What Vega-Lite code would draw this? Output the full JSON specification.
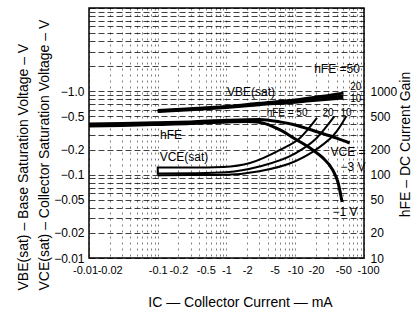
{
  "$schema": "https://vega.github.io/schema/vega-lite/v6.json",
  "width": 275,
  "height": 250,
  "autosize": {"type": "none"},
  "padding": {"left": 89, "top": 8, "right": 54, "bottom": 65},
  "background": "white",
  "config": {
    "font": "Liberation Sans",
    "view": {"stroke": "black", "strokeWidth": 1.5},
    "axis": {"labelFont": "Liberation Sans", "labelFontSize": 12, "labelColor": "black", "titleFont": "Liberation Sans", "titleFontSize": 14, "titleFontWeight": "normal", "titleColor": "black", "ticks": false, "domain": false, "labelOverlap": false}
  },
  "datasets": {
    "volt": [
      {"curve": "VBE", "beta": "10", "Ic": 0.1, "V": 0.59},
      {"curve": "VBE", "beta": "10", "Ic": 0.3, "V": 0.62},
      {"curve": "VBE", "beta": "10", "Ic": 1, "V": 0.66},
      {"curve": "VBE", "beta": "10", "Ic": 3, "V": 0.72},
      {"curve": "VBE", "beta": "10", "Ic": 10, "V": 0.79},
      {"curve": "VBE", "beta": "10", "Ic": 20, "V": 0.85},
      {"curve": "VBE", "beta": "10", "Ic": 50, "V": 0.95},
      {"curve": "VBE", "beta": "20", "Ic": 0.1, "V": 0.58},
      {"curve": "VBE", "beta": "20", "Ic": 0.3, "V": 0.61},
      {"curve": "VBE", "beta": "20", "Ic": 1, "V": 0.65},
      {"curve": "VBE", "beta": "20", "Ic": 3, "V": 0.70},
      {"curve": "VBE", "beta": "20", "Ic": 10, "V": 0.76},
      {"curve": "VBE", "beta": "20", "Ic": 20, "V": 0.81},
      {"curve": "VBE", "beta": "20", "Ic": 50, "V": 0.88},
      {"curve": "VBE", "beta": "50", "Ic": 0.1, "V": 0.57},
      {"curve": "VBE", "beta": "50", "Ic": 0.3, "V": 0.60},
      {"curve": "VBE", "beta": "50", "Ic": 1, "V": 0.64},
      {"curve": "VBE", "beta": "50", "Ic": 3, "V": 0.69},
      {"curve": "VBE", "beta": "50", "Ic": 10, "V": 0.74},
      {"curve": "VBE", "beta": "50", "Ic": 20, "V": 0.78},
      {"curve": "VBE", "beta": "50", "Ic": 50, "V": 0.83},
      {"curve": "VCE", "beta": "50", "Ic": 0.1, "V": 0.1},
      {"curve": "VCE", "beta": "50", "Ic": 0.1, "V": 0.122},
      {"curve": "VCE", "beta": "50", "Ic": 0.3, "V": 0.122},
      {"curve": "VCE", "beta": "50", "Ic": 0.9, "V": 0.124},
      {"curve": "VCE", "beta": "50", "Ic": 2.2, "V": 0.138},
      {"curve": "VCE", "beta": "50", "Ic": 6, "V": 0.198},
      {"curve": "VCE", "beta": "50", "Ic": 11.7, "V": 0.275},
      {"curve": "VCE", "beta": "50", "Ic": 20.7, "V": 0.48},
      {"curve": "VCE", "beta": "20", "Ic": 0.1, "V": 0.103},
      {"curve": "VCE", "beta": "20", "Ic": 0.3, "V": 0.104},
      {"curve": "VCE", "beta": "20", "Ic": 1, "V": 0.107},
      {"curve": "VCE", "beta": "20", "Ic": 3, "V": 0.125},
      {"curve": "VCE", "beta": "20", "Ic": 10, "V": 0.18},
      {"curve": "VCE", "beta": "20", "Ic": 20, "V": 0.27},
      {"curve": "VCE", "beta": "20", "Ic": 37, "V": 0.5},
      {"curve": "VCE", "beta": "10", "Ic": 0.1, "V": 0.098},
      {"curve": "VCE", "beta": "10", "Ic": 0.3, "V": 0.099},
      {"curve": "VCE", "beta": "10", "Ic": 1, "V": 0.1},
      {"curve": "VCE", "beta": "10", "Ic": 3, "V": 0.11},
      {"curve": "VCE", "beta": "10", "Ic": 10, "V": 0.145},
      {"curve": "VCE", "beta": "10", "Ic": 20, "V": 0.2},
      {"curve": "VCE", "beta": "10", "Ic": 40, "V": 0.33},
      {"curve": "VCE", "beta": "10", "Ic": 55, "V": 0.5}
    ],
    "gain": [
      {"vce": "-3", "Ic": 0.01, "hFE": 405},
      {"vce": "-3", "Ic": 0.03, "hFE": 410},
      {"vce": "-3", "Ic": 0.1, "hFE": 420},
      {"vce": "-3", "Ic": 0.3, "hFE": 430},
      {"vce": "-3", "Ic": 1, "hFE": 450},
      {"vce": "-3", "Ic": 3, "hFE": 460},
      {"vce": "-3", "Ic": 6, "hFE": 430},
      {"vce": "-3", "Ic": 10, "hFE": 395},
      {"vce": "-3", "Ic": 20, "hFE": 330},
      {"vce": "-3", "Ic": 40, "hFE": 275},
      {"vce": "-3", "Ic": 62, "hFE": 240},
      {"vce": "-1", "Ic": 0.01, "hFE": 385},
      {"vce": "-1", "Ic": 0.03, "hFE": 390},
      {"vce": "-1", "Ic": 0.1, "hFE": 400},
      {"vce": "-1", "Ic": 0.3, "hFE": 410},
      {"vce": "-1", "Ic": 1, "hFE": 430},
      {"vce": "-1", "Ic": 2, "hFE": 435},
      {"vce": "-1", "Ic": 3, "hFE": 425},
      {"vce": "-1", "Ic": 6, "hFE": 344},
      {"vce": "-1", "Ic": 10, "hFE": 268},
      {"vce": "-1", "Ic": 18, "hFE": 198},
      {"vce": "-1", "Ic": 25, "hFE": 160},
      {"vce": "-1", "Ic": 35, "hFE": 114},
      {"vce": "-1", "Ic": 42, "hFE": 80},
      {"vce": "-1", "Ic": 48, "hFE": 47}
    ],
    "notes": [
      {"label": "VBE(sat)", "Ic": 2.27, "V": 0.98, "size": "n"},
      {"label": "hFE", "Ic": 0.156, "V": 0.30, "size": "n"},
      {"label": "VCE(sat)", "Ic": 0.241, "V": 0.163, "size": "n"},
      {"label": "hFE = 50", "Ic": 7.6, "V": 0.55, "size": "s"},
      {"label": "20", "Ic": 29.9, "V": 0.55, "size": "s"},
      {"label": "10", "Ic": 54.7, "V": 0.55, "size": "s"},
      {"label": "hFE =50", "Ic": 40.5, "V": 1.85, "size": "n"},
      {"label": "20", "Ic": 76, "V": 1.14, "size": "s"},
      {"label": "10", "Ic": 76, "V": 0.82, "size": "s"},
      {"label": "VCE =", "Ic": 58.5, "V": 0.185, "size": "n"},
      {"label": "−3 V", "Ic": 69, "V": 0.124, "size": "n"},
      {"label": "−1 V", "Ic": 53, "V": 0.0356, "size": "n"}
    ]
  },
  "encoding": {
    "x": {
      "field": "Ic", "type": "quantitative",
      "scale": {"type": "log", "domain": [0.01, 100]},
      "axis": {
        "values": [0.01,0.02,0.03,0.04,0.05,0.06,0.07,0.08,0.09,0.1,0.2,0.3,0.4,0.5,0.6,0.7,0.8,0.9,1,2,3,4,5,6,7,8,9,10,20,30,40,50,60,70,80,90,100],
        "labelExpr": "indexof([0.01,0.02,0.1,0.2,0.5,1,2,5,10,20,50,100], datum.value) >= 0 ? '-' + datum.value : ''",
        "labelFlush": false,
        "labelFontSize": 11,
        "labelOffset": {"condition": [{"test": "datum.value == 0.01", "value": -4}, {"test": "datum.value == 100", "value": 4}], "value": 0},
        "labelPadding": 6,
        "grid": true, "gridDash": [2, 4], "gridColor": "black", "gridOpacity": 0.5, "gridWidth": 1,
        "title": "IC — Collector Current — mA",
        "titleX": 151, "titleY": 44, "titleAlign": "center", "titleBaseline": "middle"
      }
    }
  },
  "layer": [
    {
      "encoding": {
        "y": {
          "field": "V", "type": "quantitative",
          "scale": {"type": "log", "domain": [0.01, 10]},
          "axis": {
            "orient": "left",
            "values": [0.01,0.02,0.03,0.04,0.05,0.06,0.07,0.08,0.09,0.1,0.2,0.3,0.4,0.5,0.6,0.7,0.8,0.9,1,2,3,4,5,6,7,8,9,10],
            "labelExpr": "indexof([0.01,0.02,0.05,0.1,0.2,0.5,1], datum.value) >= 0 ? (datum.value == 1 ? '−1.0' : '−' + datum.value) : ''",
            "labelPadding": 5,
            "grid": true, "gridDash": [6, 3], "gridColor": "black", "gridOpacity": 0.75, "gridWidth": 1,
            "title": ["VBE(sat) – Base Saturation Voltage – V", "VCE(sat) – Collector Saturation Voltage – V"],
            "titleAngle": -90, "titleAlign": "left", "titleBaseline": "middle",
            "titleX": -66, "titleY": 282, "titleLineHeight": 21
          }
        }
      },
      "layer": [
        {
          "data": {"name": "volt"},
          "transform": [{"filter": "datum.curve == 'VBE'"}],
          "mark": {"type": "line", "color": "black", "strokeWidth": 2.8, "interpolate": "monotone"},
          "encoding": {"detail": {"field": "beta"}}
        },
        {
          "data": {"name": "volt"},
          "transform": [{"filter": "datum.curve == 'VCE'"}],
          "mark": {"type": "line", "color": "black", "strokeWidth": 2, "interpolate": "monotone"},
          "encoding": {"detail": {"field": "beta"}}
        },
        {
          "data": {"name": "notes"},
          "transform": [{"filter": "datum.size == 'n'"}],
          "mark": {"type": "text", "color": "black", "fontSize": 12, "align": "center", "baseline": "middle", "font": "Liberation Sans"},
          "encoding": {"text": {"field": "label"}}
        },
        {
          "data": {"name": "notes"},
          "transform": [{"filter": "datum.size == 's'"}],
          "mark": {"type": "text", "color": "black", "fontSize": 10, "align": "center", "baseline": "middle", "font": "Liberation Sans"},
          "encoding": {"text": {"field": "label"}}
        }
      ]
    },
    {
      "data": {"name": "gain"},
      "mark": {"type": "line", "color": "black", "strokeWidth": 3, "interpolate": "monotone"},
      "encoding": {
        "detail": {"field": "vce"},
        "y": {
          "field": "hFE", "type": "quantitative",
          "scale": {"type": "log", "domain": [10, 10000]},
          "axis": {
            "orient": "right",
            "values": [10, 20, 50, 100, 200, 500, 1000],
            "labelExpr": "'' + datum.value",
            "labelPadding": 6,
            "grid": false,
            "title": "hFE – DC Current Gain",
            "titleAngle": -90, "titleAlign": "center", "titleBaseline": "middle",
            "titleX": 41, "titleY": 136
          }
        }
      }
    }
  ],
  "resolve": {"scale": {"y": "independent"}}
}
